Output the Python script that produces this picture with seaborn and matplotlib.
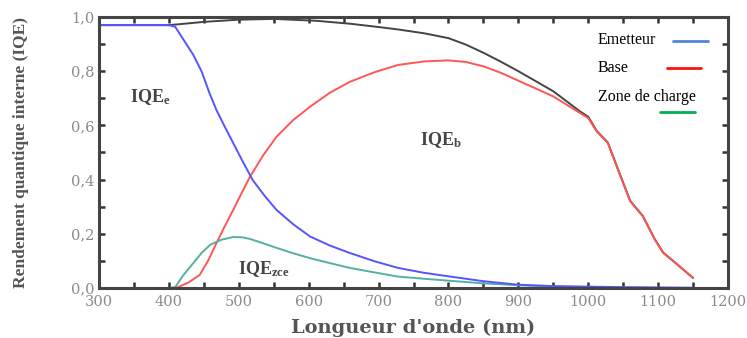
import matplotlib
matplotlib.use("Agg")
import matplotlib.pyplot as plt
import seaborn as sns
from matplotlib.ticker import MultipleLocator

# Curves (wavelength nm -> IQE)
wl_e = [300, 350, 400, 409, 420, 435, 447, 458, 468, 480, 492, 505, 520, 537, 554, 578, 602, 630, 659, 695, 728, 765, 800, 850, 900, 950, 1000, 1050, 1100, 1150]
iqe_e = [0.97, 0.97, 0.97, 0.964, 0.92, 0.86, 0.798, 0.72, 0.657, 0.595, 0.535, 0.47, 0.398, 0.34, 0.288, 0.235, 0.19, 0.157, 0.129, 0.098, 0.074, 0.056, 0.043, 0.025, 0.012, 0.007, 0.005, 0.003, 0.002, 0.001]

wl_zce = [300, 400, 409, 420, 435, 447, 459, 475, 492, 505, 516, 535, 554, 578, 602, 630, 659, 695, 728, 765, 800, 850, 900, 950, 1000, 1050, 1100, 1150]
iqe_zce = [0.0, 0.0, 0.003, 0.045, 0.092, 0.13, 0.159, 0.178, 0.188, 0.187, 0.181, 0.165, 0.148, 0.128, 0.11, 0.092, 0.074, 0.057, 0.042, 0.034, 0.027, 0.017, 0.01, 0.005, 0.003, 0.001, 0.0, 0.0]

wl_b = [300, 400, 412, 428, 444, 456, 468, 480, 492, 504, 516, 535, 554, 578, 602, 630, 659, 695, 728, 765, 800, 825, 850, 875, 900, 950, 988, 1000, 1012, 1028, 1042, 1060, 1078, 1095, 1107, 1126, 1150]
iqe_b = [0.0, 0.0, 0.002, 0.02, 0.048, 0.1, 0.165, 0.228, 0.288, 0.35, 0.41, 0.49, 0.558, 0.62, 0.669, 0.72, 0.761, 0.797, 0.823, 0.836, 0.84, 0.834, 0.818, 0.794, 0.765, 0.707, 0.646, 0.627, 0.578, 0.535, 0.44, 0.32, 0.265, 0.18, 0.13, 0.09, 0.037]

wl_tot = [300, 350, 400, 409, 450, 499, 550, 611, 660, 700, 728, 765, 800, 825, 850, 875, 900, 950, 988, 1000, 1012, 1028, 1042, 1060, 1078, 1095, 1107, 1126, 1150]
iqe_tot = [0.97, 0.97, 0.97, 0.972, 0.982, 0.99, 0.993, 0.986, 0.975, 0.963, 0.954, 0.94, 0.922, 0.898, 0.868, 0.835, 0.80, 0.726, 0.652, 0.632, 0.58, 0.537, 0.442, 0.322, 0.266, 0.181, 0.131, 0.09, 0.037]

y_ticks = [0.0, 0.2, 0.4, 0.6, 0.8, 1.0]
y_labels = ["0,0", "0,2", "0,4", "0,6", "0,8", "1,0"]
x_ticks = [300, 400, 500, 600, 700, 800, 900, 1000, 1100, 1200]

legend_names = ["Emetteur", "Base", "Zone de charge"]
legend_colors = ["#4f86d6", "#ff1010", "#00b050"]

sns.set_style("ticks")
plt.rcParams['font.family'] = ['Liberation Serif', 'DejaVu Serif']
plt.rcParams['mathtext.fontset'] = 'custom'
plt.rcParams['mathtext.rm'] = 'Liberation Serif'
plt.rcParams['mathtext.bf'] = 'Liberation Serif:bold'
plt.rcParams['mathtext.it'] = 'Liberation Serif:italic'

fig, ax = plt.subplots(figsize=(7.47, 3.38), dpi=100)
fig.subplots_adjust(left=0.1325, right=0.9746, top=0.9497, bottom=0.148)

sns.lineplot(x=wl_tot, y=iqe_tot, ax=ax, color="#444444", lw=1.4)
sns.lineplot(x=wl_b, y=iqe_b, ax=ax, color="#ff5555", lw=1.4)
sns.lineplot(x=wl_zce, y=iqe_zce, ax=ax, color="#55b0a0", lw=1.4)
sns.lineplot(x=wl_e, y=iqe_e, ax=ax, color="#5555ff", lw=1.4)

ax.set_xlim(300, 1200)
ax.set_ylim(0, 1.0)
ax.set_xticks(x_ticks)
ax.set_yticks(y_ticks)
ax.set_yticklabels(y_labels)
ax.xaxis.set_minor_locator(MultipleLocator(50))
ax.yaxis.set_minor_locator(MultipleLocator(0.1))
ax.tick_params(which="both", direction="in", top=True, right=True,
               length=4, width=1.8, color="#333333", labelsize=10.5,
               labelcolor="#8a8a8a")
ax.tick_params(axis="x", pad=5)
for lbl in ax.get_xticklabels() + ax.get_yticklabels():
    lbl.set_family("DejaVu Serif")

ax.set_xlabel("Longueur d'onde (nm)", fontsize=14, fontweight="bold", color="#555555",
              labelpad=7, family="DejaVu Serif")
ax.set_ylabel("Rendement quantique interne (IQE)", fontsize=12.5, fontweight="bold",
              color="#555555", labelpad=30)
for s in ax.spines.values():
    s.set_linewidth(2.2)
    s.set_color("#444444")

ax.text(344, 0.705, r"IQE$_\mathbf{e}$", fontsize=13, fontweight="bold", color="#444444", va="center")
ax.text(759, 0.546, r"IQE$_\mathbf{b}$", fontsize=13, fontweight="bold", color="#444444", va="center")
ax.text(499, 0.07, r"IQE$_\mathbf{zce}$", fontsize=13, fontweight="bold", color="#444444", va="center")

# legend: label text on the left, coloured key on the right
text_y = [0.915, 0.812, 0.705]
key_x = [(0.913, 0.968), (0.903, 0.957), (0.892, 0.948)]
key_y = [0.911, 0.812, 0.649]
for name, c, ty, kx, ky in zip(legend_names, legend_colors, text_y, key_x, key_y):
    ax.text(0.793, ty, name, transform=ax.transAxes, fontsize=11.5, va="center", color="black")
    ax.plot(kx, [ky, ky], transform=ax.transAxes, color=c, lw=2)

fig.savefig("out.png", dpi=100)
